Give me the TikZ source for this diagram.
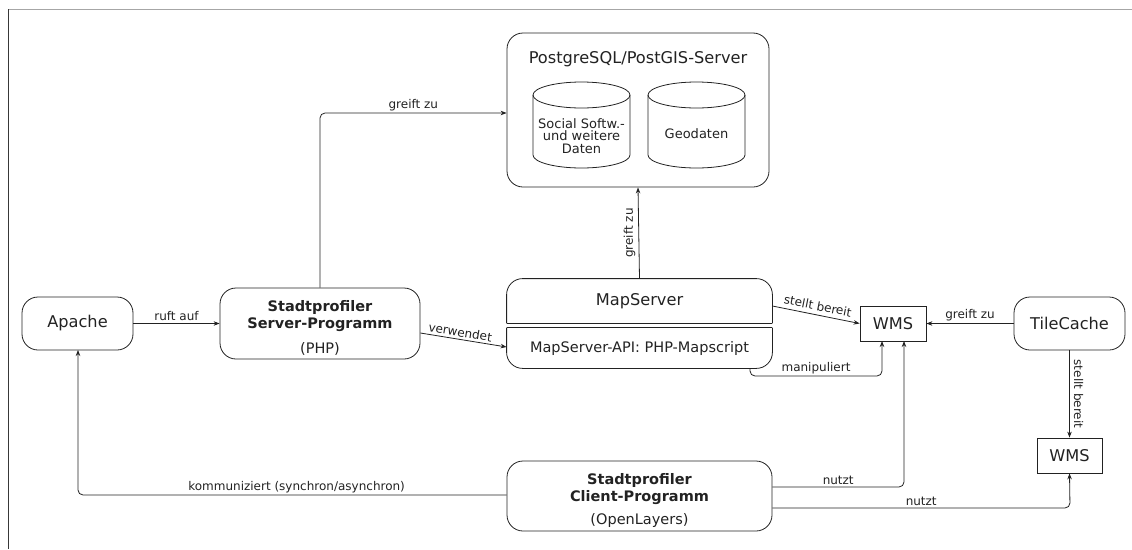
\documentclass[tikz,border=0pt]{standalone}
\usepackage{fontspec}
\setmainfont{DejaVu Sans}
\usetikzlibrary{arrows.meta}
\definecolor{ln}{HTML}{222222}
\tikzset{
  rbox/.style={draw=ln, rounded corners=16pt, align=center, inner sep=0pt},
  sbox/.style={draw=ln, align=center, inner sep=0pt},
  bigf/.style={font=\fontsize{16.2}{18}\selectfont},
  medf/.style={font=\fontsize{14.5}{17}\selectfont},
  cylf/.style={font=\fontsize{13}{12.5}\selectfont, align=center, text=ln},
  lbl/.style={font=\fontsize{12}{14}\selectfont, text=ln, inner sep=2pt},
  arr/.style={-{Stealth[length=6pt,width=4.5pt]}, draw=ln},
}
\begin{document}
\begin{tikzpicture}[x=1pt, y=-1pt, line width=0.8pt, color=ln]
\useasboundingbox (0,0) rectangle (1132,549);
% frame lines
\draw[draw=gray!70, line width=1pt] (8,9) -- (1132,9);
\draw[draw=ln!90, line width=1pt] (8,9) -- (8,549);

% Postgres container
\node[rbox, minimum width=262pt, minimum height=154pt] (pg) at (638,110) {};
\node[bigf, text=ln] (pgt) at (638,59) {PostgreSQL/PostGIS-Server};
% cylinders
\draw (533,95) -- (533,155) arc[start angle=180,end angle=360,x radius=48.5pt,y radius=13pt] -- (630,95);
\draw (581.5,95) ellipse[x radius=48.5pt,y radius=13pt];
\node[cylf] (cyl1) at (581.5,136) {Social Softw.-\\und weitere\\Daten};
\draw (648,95) -- (648,155) arc[start angle=180,end angle=360,x radius=48.5pt,y radius=13pt] -- (745,95);
\draw (696.5,95) ellipse[x radius=48.5pt,y radius=13pt];
\node[cylf] (cyl2) at (696.5,134) {Geodaten};

% Apache
\node[rbox, bigf, minimum width=111pt, minimum height=53pt] (ap) at (77.5,323.5) {Apache};
% Server-Programm
\node[rbox, minimum width=200pt, minimum height=71pt] (srv) at (320,323.5) {};
\node[medf, align=center, text=ln] (srvt) at (320,316) {\bfseries Stadtprofiler\\\bfseries Server-Programm};
\node[medf, text=ln] (srvp) at (320,349) {(PHP)};

% MapServer compound
\node[bigf, minimum width=265pt, minimum height=44pt, inner sep=0pt, text=ln] (ms) at (639.5,301) {MapServer};
\draw[rounded corners=16pt] (ms.south west) -- (ms.north west) -- (ms.north east) -- (ms.south east);
\draw (ms.south west) -- (ms.south east);
\node[medf, minimum width=265pt, minimum height=40pt, inner sep=0pt, text=ln] (api) at (639.5,348) {MapServer-API: PHP-Mapscript};
\draw[rounded corners=16pt] (api.north west) -- (api.south west) -- (api.south east) -- (api.north east);
\draw (api.north west) -- (api.north east);

% WMS 1
\node[sbox, bigf, minimum width=66pt, minimum height=35pt] (wms1) at (893,323.5) {WMS};
% TileCache
\node[rbox, bigf, minimum width=111pt, minimum height=53pt] (tc) at (1069.5,323.5) {TileCache};
% WMS 2
\node[sbox, bigf, minimum width=65pt, minimum height=35pt] (wms2) at (1069.5,455.5) {WMS};

% Client
\node[rbox, minimum width=265pt, minimum height=70pt] (cl) at (639.5,496) {};
\node[medf, align=center, text=ln] (clt) at (639.5,489) {\bfseries Stadtprofiler\\\bfseries Client-Programm};
\node[medf, text=ln] (clp) at (639.5,520) {(OpenLayers)};

% connectors
\draw[arr] (ap.east) -- node[lbl, above] {ruft auf} (srv.west);
\draw[arr, rounded corners=5pt] (srv.north) -- (320,113) -- node[lbl, above] {greift zu} (pg.west |- 0,113);
\draw[arr] (ms.north) -- node[midway, lbl, rotate=90, anchor=south, inner sep=3pt] {greift zu} (pg.south);
\draw[arr] (srv.east |- 0,333) -- node[lbl, above, sloped, pos=0.45] {verwendet} (api.west |- 0,347);
\draw[arr] (ms.east |- 0,306) -- node[lbl, above=2pt, sloped] {stellt bereit} (wms1.west);
\draw[arr, rounded corners=5pt] (750,368) -- (750,376) -- node[lbl, above] {manipuliert} (882,376) -- (882,341);
\draw[arr] (tc.west) -- node[lbl, above] {greift zu} (wms1.east);
\draw[arr] (tc.south) -- node[midway, lbl, rotate=-90, anchor=south, inner sep=4pt] {stellt bereit} (wms2.north);
\draw[arr, rounded corners=5pt] (cl.east |- 0,487) -- node[lbl, above, pos=0.5] {nutzt} (904,487) -- (904,341);
\draw[arr, rounded corners=5pt] (cl.east |- 0,508) -- node[lbl, above, pos=0.5] {nutzt} (1070,508) -- (wms2.south);
\draw[arr, rounded corners=5pt] (cl.west |- 0,495) -- node[lbl, above, pos=0.49] {kommuniziert (synchron/asynchron)} (78,495) -- (78,350);
\end{tikzpicture}
\end{document}
